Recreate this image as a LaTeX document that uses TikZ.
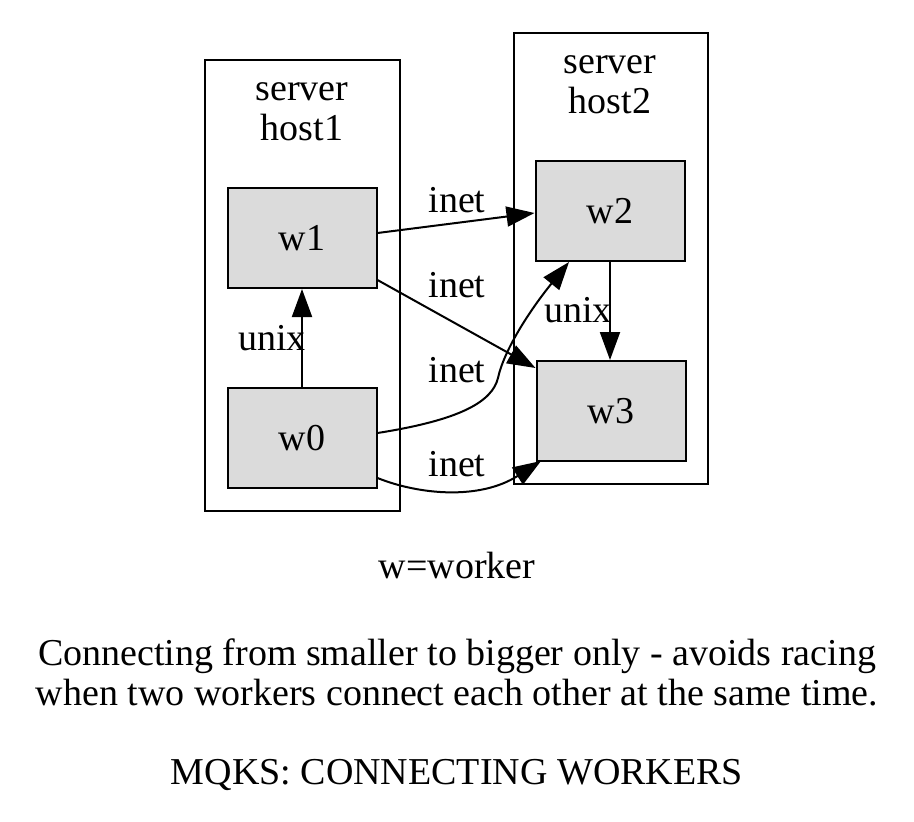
\documentclass[tikz,border=0pt]{standalone}
\usepackage{fontspec}
\setmainfont{Liberation Serif}
\usetikzlibrary{arrows.meta}
\begin{document}
\begin{tikzpicture}[x=1pt,y=-1pt,
  every node/.style={font=\fontsize{38}{40}\selectfont, inner sep=0pt},
  cluster/.style={draw, line width=2pt},
  worker/.style={draw, line width=2pt, fill=gray!28, minimum width=149pt, minimum height=100pt},
  edge/.style={line width=2pt, -{Triangle[length=28pt,width=20pt]}},
  lbl/.style={align=center}]
\useasboundingbox (0,0) rectangle (914,822);
\draw[cluster] (205,60) rectangle (400,511);
\draw[cluster] (514,33) rectangle (708,484);
\node[lbl] (c1) at (302,112) {server\\host1};
\node[lbl] (c2) at (610,85) {server\\host2};
\node[worker] (w1) at (302,238) {w1};
\node[worker] (w0) at (302,438) {w0};
\node[worker] (w2) at (610,211) {w2};
\node[worker] (w3) at (611,411) {w3};
\draw[edge] (w0.north) -- (w1.south);
\draw[edge] (w2.south) -- (w2.south |- w3.north);
\draw[edge] (w1.east |- 0,233) -- (w2.west |- 0,213);
\draw[edge] (w1.east |- 0,280) -- (w3.west |- 0,368);
\coordinate (t2) at (569,262);
\coordinate (t3) at (541,461);
\draw[edge] (w0.east |- 0,433) .. controls (460,420) and (492,402) .. (498,378) .. controls (504,350) and (530,310) .. (t2);
\draw[edge] (w0.east |- 0,478) .. controls (420,495) and (480,500) .. (t3);
\node (l1) at (272,338) {unix};
\node (l2) at (578,310) {unix};
\node (l3) at (457,200) {inet};
\node (l4) at (457,285) {inet};
\node (l5) at (457,370) {inet};
\node (l6) at (457,464) {inet};
\node (n1) at (457,565) {w=worker};
\node[lbl] (n2) at (457,672) {Connecting from smaller to bigger only - avoids racing\\when two workers connect each other at the same time.};
\node (n3) at (457,775) {MQKS: CONNECTING WORKERS};
\end{tikzpicture}
\end{document}
